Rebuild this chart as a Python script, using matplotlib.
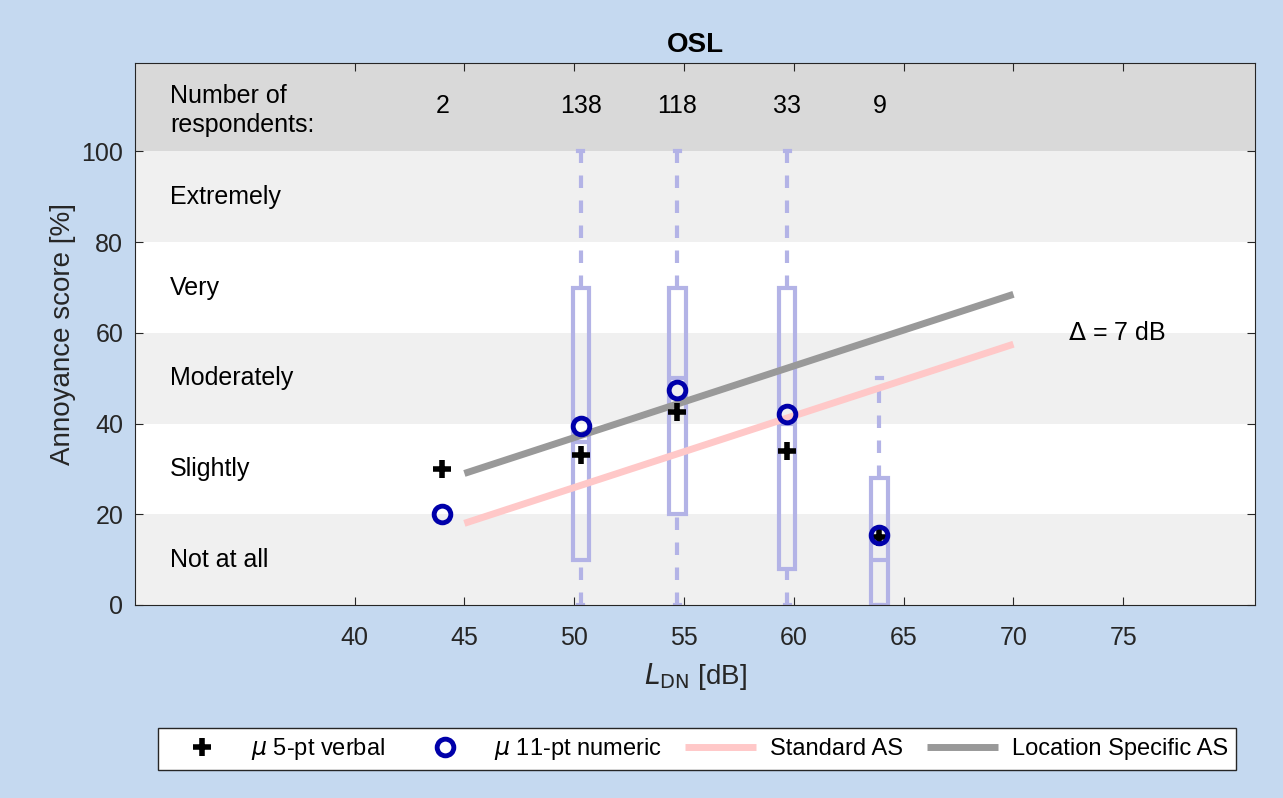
import matplotlib.pyplot as plt
import numpy as np

plt.rcParams['font.family'] = ['Liberation Sans', 'DejaVu Sans']

# bins of L_DN and respondents
bin_x = [44.0, 50.3, 54.7, 59.7, 63.9]
n_resp = [2, 138, 118, 33, 9]

# box statistics per bin (first bin has no box)
box_x = [50.3, 54.7, 59.7, 63.9]
box_q1 = [10, 20, 8, 0]
box_med = [36, 50, 40, 10]
box_q3 = [70, 70, 70, 28]
whisk_lo = [0, 0, 0, 0]
whisk_hi = [100, 100, 100, 50]

# mean annoyance scores
verbal_mean = [30, 33, 42.5, 34, 15]
numeric_mean = [20, 39.5, 47.5, 42, 15.5]

# exposure-response lines
line_x = [45, 70]
standard_as = [18, 57.5]
location_as = [29, 68.5]

levels = ['Not at all', 'Slightly', 'Moderately', 'Very', 'Extremely']

bg = '#C5D9F0'
box_col = '#B3B3E6'
txt = '#262626'

fig = plt.figure(figsize=(12.83, 7.98), dpi=100, facecolor=bg)
ax = fig.add_axes([0.1052, 0.2419, 0.8730, 0.6791])

# background bands
for i in range(5):
    ax.axhspan(i * 20, (i + 1) * 20, color='#F0F0F0' if i % 2 == 0 else 'white', zorder=0, lw=0)
    ax.text(31.6, i * 20 + 10, levels[i], fontsize=18, va='center', ha='left', zorder=1)
ax.axhspan(100, 120, color='#D9D9D9', zorder=0, lw=0)
ax.text(31.6, 109, 'Number of\nrespondents:', fontsize=18, va='center', ha='left', linespacing=1.25)
for x, n in zip(bin_x, n_resp):
    ax.text(x, 110, str(n), fontsize=18, ha='center', va='center')

# boxes
bw = 0.75
for x, q1, md, q3, lo, hi in zip(box_x, box_q1, box_med, box_q3, whisk_lo, whisk_hi):
    ax.add_patch(plt.Rectangle((x - bw / 2, q1), bw, q3 - q1, fill=False,
                               ec=box_col, lw=3, zorder=2))
    ax.plot([x - bw / 2 + 0.15, x + bw / 2 - 0.15], [md, md], color=box_col, lw=3, zorder=2)
    ax.plot([x, x], [q3, hi], color=box_col, lw=3, ls=(0, (3, 3)), zorder=2)
    if q1 > lo:
        ax.plot([x, x], [lo, q1], color=box_col, lw=3, ls=(0, (3, 3)), zorder=2)
    ax.plot([x - 0.12, x + 0.12], [hi, hi], color=box_col, lw=3, zorder=2)
    ax.plot([x - 0.12, x + 0.12], [lo, lo], color=box_col, lw=3, zorder=2)

ax.plot(line_x, standard_as, color='#FFC8C8', lw=5, solid_capstyle='butt', zorder=3, label='Standard AS')
ax.plot(line_x, location_as, color='#999999', lw=5, solid_capstyle='butt', zorder=3, label='Location Specific AS')
ax.plot(bin_x, verbal_mean, '+', color='black', ms=13, mew=4, ls='none', zorder=4,
        label=r'$\mu$ 5-pt verbal')
ax.plot(bin_x, numeric_mean, 'o', mfc='none', mec='#0000AA', ms=12, mew=3.5, ls='none', zorder=4,
        label=r'$\mu$ 11-pt numeric')

ax.text(72.5, 60, r'$\Delta$ = 7 dB', fontsize=18, va='center', ha='left')

ax.set_xlim(30, 81)
ax.set_ylim(0, 119.5)
ax.set_xticks([40, 45, 50, 55, 60, 65, 70, 75])
ax.set_yticks([0, 20, 40, 60, 80, 100])
ax.tick_params(direction='in', labelsize=18, length=6, top=True, right=True, colors=txt)
ax.tick_params(axis='x', pad=15)
ax.tick_params(axis='y', pad=8.5)
ax.set_xlabel(r'$\mathit{L}_{\mathrm{DN}}$ [dB]', fontsize=20, color=txt, labelpad=8)
ax.set_ylabel('Annoyance score [%]', fontsize=20, color=txt, labelpad=4)
ax.set_title('OSL', fontsize=20, fontweight='bold', pad=8)
for s in ax.spines.values():
    s.set_color(txt)

h, l = ax.get_legend_handles_labels()
order = [2, 3, 0, 1]
ax.legend([h[i] for i in order], [l[i] for i in order], loc='center',
          bbox_to_anchor=(0.5435, 0.0615), bbox_transform=fig.transFigure, ncol=4,
          fontsize=17, frameon=True, fancybox=False, edgecolor=txt,
          framealpha=1, handlelength=3, columnspacing=1.0, handletextpad=0.6, borderpad=0.35)

fig.savefig('out.png', facecolor=bg)
